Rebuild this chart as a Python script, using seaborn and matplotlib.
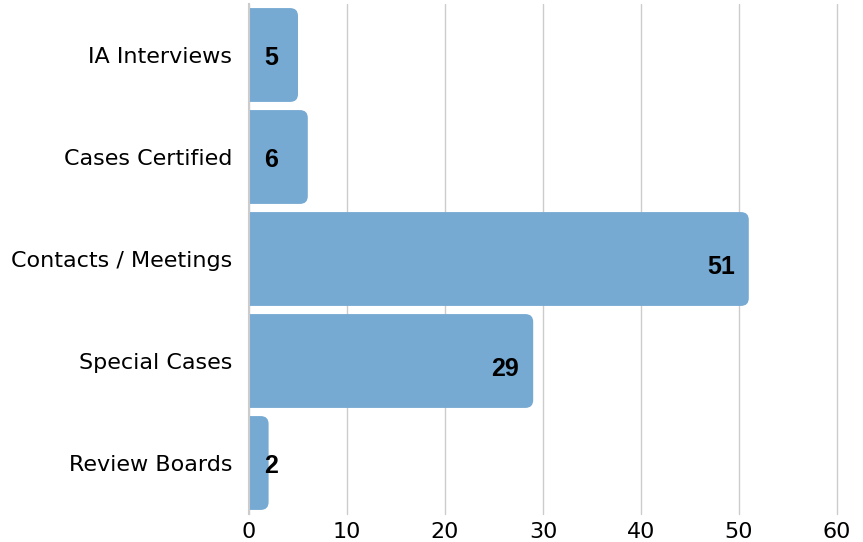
import pandas as pd
import seaborn as sns
import matplotlib.pyplot as plt
from matplotlib.patches import FancyBboxPatch

# data
categories = ["IA Interviews", "Cases Certified", "Contacts / Meetings", "Special Cases", "Review Boards"]
counts = [5, 6, 51, 29, 2]
x_ticks = [0, 10, 20, 30, 40, 50, 60]

df = pd.DataFrame({"category": categories, "count": counts})

bar_color = "#76aad3"
grid_color = "#cccccc"

sns.set_theme(style="white")
plt.rcParams['font.family'] = ['DejaVu Sans']

fig = plt.figure(figsize=(8.63, 5.42), dpi=100)
ax = fig.add_axes([249 / 863, 1 - 514 / 542, (837 - 249) / 863, 510 / 542])

sns.barplot(data=df, x="count", y="category", color=bar_color, width=0.92,
            saturation=1, ax=ax, zorder=3)

ax.set_xlim(0, 60)
ax.set_ylim(len(categories) - 0.5, -0.5)

# swap plain bars for ones with rounded right corners
radius = 0.8
aspect = (588 / 60) / 102  # px per x unit / px per y unit
for p in list(ax.patches):
    x0, y0 = p.get_x(), p.get_y()
    w, h = p.get_width(), p.get_height()
    p.remove()
    rb = FancyBboxPatch((x0 - 2, y0), w + 2, h,
                        boxstyle=f"round,pad=0,rounding_size={radius}",
                        mutation_aspect=aspect, facecolor=bar_color,
                        edgecolor="none", zorder=3)
    ax.add_patch(rb)

# value labels
for i, v in enumerate(counts):
    if v < 10:
        ax.annotate(str(v), (0, i), xytext=(11, -2), textcoords="offset points",
                    ha="left", va="center", fontsize=18, fontweight="bold",
                    family="Liberation Sans", color="black", zorder=4)
    else:
        ax.annotate(str(v), (v, i), xytext=(-10, -6), textcoords="offset points",
                    ha="right", va="center", fontsize=18, fontweight="bold",
                    family="Liberation Sans", color="black", zorder=4)

ax.set_xticks(x_ticks)
ax.grid(axis="x", color=grid_color, linewidth=1, zorder=0)
ax.grid(axis="y", visible=False)
for gl in ax.get_xgridlines():
    gl.set_clip_on(False)
sns.despine(ax=ax, bottom=True)
ax.spines["left"].set_color(grid_color)
ax.spines["left"].set_linewidth(1.5)
ax.spines["left"].set_zorder(5)
ax.set_xlabel("")
ax.set_ylabel("")
ax.tick_params(axis="y", length=0, pad=12, labelsize=16, labelcolor="black")
ax.tick_params(axis="x", length=0, pad=6, labelsize=16, labelcolor="black")

fig.savefig("out.png", dpi=100)
